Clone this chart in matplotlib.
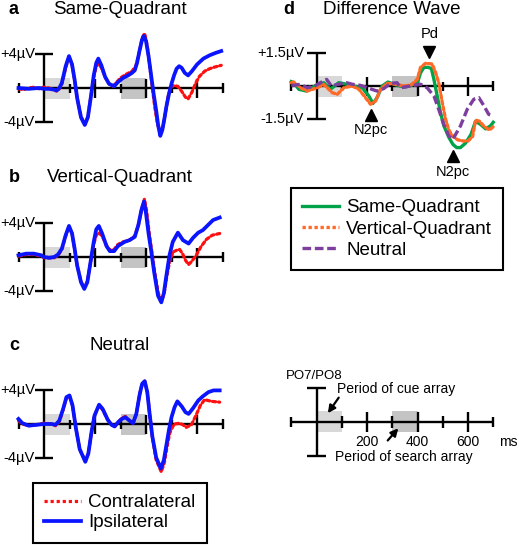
import matplotlib
matplotlib.use("Agg")
import matplotlib.pyplot as plt
from matplotlib.lines import Line2D

plt.rcParams["font.family"] = ["Liberation Sans", "DejaVu Sans"]

W, H = 519, 545

# ---- data (ms, microvolts) ----
cue_window = (0, 100)
search_window = (300, 400)

a_contra_t = [-100, -80, -60, -40, -20, 0, 20, 40, 50, 60, 70, 85, 98, 110, 120, 130, 145, 160, 172, 185,
              195, 205, 215, 225, 240, 255, 270, 285, 300, 320, 345, 360, 375, 385, 395, 405, 415, 425,
              435, 445, 457, 467, 477, 487, 497, 510, 525, 540, 555, 565, 580, 595, 610, 630, 650, 670, 695]
a_contra_v = [-0.1, -0.2, 0.0, 0.1, -0.1, 0.1, 0.0, -0.2, -0.4, -0.1, 0.5, 2.4, 3.7, 2.8, 1.0, -1.2, -3.4,
              -4.3, -3.4, -0.8, 1.3, 2.6, 2.9, 2.4, 1.3, 0.5, 0.2, 0.7, 1.2, 1.6, 2.0, 2.6, 4.4, 6.0, 6.5,
              5.0, 2.6, 0.0, -2.4, -4.3, -5.3, -4.6, -2.8, -1.0, 0.1, 0.3, 0.2, -0.4, -1.1, -1.3, -0.5,
              0.6, 1.4, 2.0, 2.3, 2.5, 2.7]
a_ipsi_t = [-100, -60, -20, 0, 20, 40, 50, 60, 70, 85, 98, 110, 120, 130, 145, 160, 172, 185, 195, 205,
            213, 225, 240, 255, 275, 290, 310, 330, 345, 356, 365, 375, 385, 392, 400, 410, 421, 430, 440,
            448, 456, 464, 473, 480, 490, 500, 510, 520, 530, 540, 552, 565, 580, 600, 625, 650, 675, 695]
a_ipsi_v = [0.0, -0.1, 0.0, -0.1, -0.1, -0.2, -0.3, 0.0, 0.6, 2.6, 3.8, 2.8, 1.0, -1.2, -3.5, -4.4, -3.5,
            -0.8, 1.5, 3.0, 3.5, 2.7, 1.3, 0.5, 0.2, 0.7, 1.2, 1.5, 1.8, 2.1, 3.0, 4.5, 5.8, 6.2, 5.6,
            3.8, 1.3, -0.7, -2.7, -4.5, -5.7, -5.0, -3.5, -2.2, -0.7, 0.5, 1.5, 2.3, 2.6, 2.4, 1.8, 1.5,
            2.0, 2.8, 3.5, 3.9, 4.2, 4.4]

b_contra_t = [-100, -70, -40, -10, 0, 20, 40, 55, 70, 85, 98, 110, 120, 130, 145, 158, 170, 183, 195, 205,
              215, 228, 245, 258, 275, 290, 310, 335, 356, 370, 382, 394, 402, 412, 422, 434, 448, 461,
              471, 481, 493, 506, 520, 532, 545, 555, 567, 580, 597, 615, 637, 660, 689]
b_contra_v = [0.1, 0.3, 0.3, 0.1, -0.1, -0.1, -0.1, 0.2, 0.9, 2.5, 3.6, 2.8, 1.0, -1.0, -2.9, -3.7, -2.9,
              -0.6, 1.5, 2.6, 2.9, 2.5, 1.4, 0.8, 0.9, 1.5, 1.8, 2.0, 2.5, 3.8, 5.6, 6.9, 5.6, 3.0, 0.8,
              -1.8, -4.3, -5.2, -4.4, -2.4, -0.5, 0.6, 0.8, 0.9, 0.3, -0.4, -0.9, -0.5, 0.2, 1.2, 2.1,
              2.6, 2.8]
b_ipsi_t = [-100, -70, -40, -10, 0, 20, 40, 55, 70, 85, 98, 110, 120, 130, 145, 158, 170, 183, 195, 205,
            215, 228, 245, 258, 275, 290, 316, 335, 356, 370, 382, 392, 400, 410, 420, 432, 447, 460, 470,
            480, 492, 505, 525, 545, 567, 585, 605, 623, 663, 689]
b_ipsi_v = [0.2, 0.4, 0.4, 0.2, 0.0, -0.1, 0.0, 0.3, 1.0, 2.6, 3.7, 2.8, 1.0, -1.0, -3.0, -3.8, -3.0,
            -0.5, 1.8, 3.3, 3.7, 2.8, 1.3, 0.7, 0.7, 1.3, 1.8, 2.0, 2.4, 3.8, 5.6, 6.6, 5.2, 2.8, 0.8,
            -1.8, -4.6, -5.4, -4.3, -2.2, 0.2, 1.8, 2.9, 2.0, 1.6, 2.3, 2.9, 3.2, 4.4, 4.7]

c_contra_t = [-100, -85, -60, -30, 0, 30, 45, 60, 75, 88, 100, 112, 125, 140, 162, 174, 186, 198, 216, 230,
              250, 265, 277, 290, 305, 319, 335, 349, 362, 375, 385, 395, 405, 415, 425, 440, 460, 472,
              482, 493, 503, 512, 532, 545, 558, 578, 597, 613, 630, 656, 689]
c_contra_v = [0.4, 0.0, -0.2, -0.1, 0.1, 0.0, -0.2, 0.3, 1.7, 3.1, 3.3, 2.2, -0.5, -3.0, -4.4, -3.5, -1.0,
              1.0, 2.2, 1.7, 0.5, -0.1, -0.3, 0.2, 0.7, 0.9, 0.4, 0.1, 1.2, 3.5, 4.8, 5.1, 3.8, 1.0, -1.6,
              -4.3, -5.7, -4.6, -2.8, -1.1, -0.4, 0.0, 0.1, -0.1, -0.4, -0.1, 1.1, 2.2, 2.9, 2.7, 2.6]
c_ipsi_t = [-100, -85, -60, -30, 0, 30, 45, 60, 75, 88, 100, 112, 125, 140, 162, 174, 186, 198, 216, 230,
            250, 265, 277, 290, 305, 319, 335, 349, 362, 375, 385, 395, 405, 415, 425, 440, 458, 470, 480,
            490, 500, 512, 523, 540, 555, 567, 585, 605, 623, 645, 665, 689]
c_ipsi_v = [0.6, 0.1, -0.2, -0.1, 0.0, 0.0, -0.1, 0.4, 1.8, 3.2, 3.4, 2.2, -0.5, -3.0, -4.5, -3.5, -1.0,
            1.0, 2.3, 1.8, 0.5, -0.1, -0.3, 0.2, 0.6, 0.8, 0.4, 0.1, 1.2, 3.5, 4.8, 5.1, 3.8, 1.0, -1.5,
            -4.0, -5.3, -4.3, -2.5, -0.7, 0.8, 2.0, 2.7, 2.1, 1.4, 1.2, 1.9, 2.8, 3.3, 3.8, 4.0, 4.0]

d_same_t = [-100, -90, -70, -40, -7, 29, 55, 88, 121, 148, 181, 207, 224, 240, 260, 283, 320, 350, 380,
            400, 412, 425, 440, 455, 465, 478, 491, 504, 524, 540, 555, 570, 590, 612, 630, 650, 670,
            690, 700]
d_same_v = [0.2, 0.15, -0.15, -0.23, 0.0, 0.15, -0.15, 0.15, 0.08, 0.0, -0.08, -0.45, -0.79, -0.53, 0.0,
            0.18, 0.03, -0.05, 0.05, 0.15, 0.6, 0.84, 0.85, 0.8, 0.3, -0.45, -1.2, -1.8, -2.33, -2.65,
            -2.8, -2.8, -2.6, -2.2, -1.6, -1.75, -1.95, -1.8, -1.65]
d_vert_t = [-100, -90, -63, -37, 3, 29, 62, 82, 108, 141, 168, 194, 214, 234, 253, 280, 313, 345, 375,
            399, 412, 432, 458, 472, 484, 498, 511, 524, 540, 560, 580, 600, 618, 630, 645, 665, 685, 700]
d_vert_v = [0.15, 0.18, -0.08, -0.23, -0.08, 0.07, -0.3, -0.38, -0.08, 0.0, -0.15, -0.53, -0.83, -0.68,
            -0.15, 0.12, 0.08, 0.0, 0.05, 0.3, 0.84, 1.03, 1.0, 0.6, 0.15, -0.75, -1.5, -2.0, -2.3, -2.45,
            -2.5, -2.5, -2.3, -1.55, -1.6, -1.85, -2.0, -1.85]
d_neut_t = [-100, -90, -63, -37, -7, 20, 40, 59, 86, 119, 141, 174, 201, 240, 266, 293, 319, 333, 372,
            412, 438, 465, 484, 504, 524, 540, 570, 597, 623, 643, 663, 682, 700]
d_neut_v = [0.05, 0.03, 0.08, -0.08, 0.0, 0.18, 0.3, 0.0, 0.08, 0.15, 0.08, 0.03, -0.08, -0.23, -0.12,
            0.12, 0.15, -0.08, 0.0, 0.08, -0.08, -0.45, -1.06, -1.74, -2.27, -2.42, -1.82, -1.06, -0.6,
            -0.53, -0.9, -1.29, -1.36]

scale_ticks = [200, 400, 600]
components = [("N2pc", 214, -1.3), ("Pd", 447, 1.55), ("N2pc", 541, -3.18)]

RED, BLUE = "#ff1010", "#0a14ff"
GREEN, ORANGE, PURPLE = "#00a24a", "#ff6a26", "#7d3f9e"
CUE_GRAY, SEARCH_GRAY = "#d8d8d8", "#c4c4c4"


def px_axes(fig, x0, y0, sx, sy, xlim, ylim):
    left = x0 + xlim[0] * sx
    right = x0 + xlim[1] * sx
    top = y0 - ylim[1] * sy
    bottom = y0 - ylim[0] * sy
    ax = fig.add_axes([left / W, 1 - bottom / H, (right - left) / W, (bottom - top) / H])
    ax.set_xlim(xlim)
    ax.set_ylim(ylim)
    ax.axis("off")
    return ax


def draw_frame(ax, sy, ymax, ylabels=None, label_x=-36, minor=4.5):
    k = dict(color="black", lw=1.7, solid_capstyle="butt", zorder=2)
    box = 10.5 / sy
    ax.fill_between(cue_window, -box, box, color=CUE_GRAY, lw=0, zorder=0)
    ax.fill_between(search_window, -box, box, color=SEARCH_GRAY, lw=0, zorder=0)
    ax.plot([-100, 700], [0, 0], **k)
    ax.plot([0, 0], [-ymax, ymax], **k)
    for yy in (-ymax, ymax):
        ax.plot([-37, 37], [yy, yy], **k)
    for t in (-100, 700):
        ax.plot([t, t], [-5 / sy, 5 / sy], **k)
    for t in (100, 300, 500):
        ax.plot([t, t], [-minor / sy, minor / sy], **k)
    for t in (200, 400, 600):
        ax.plot([t, t], [-9.5 / sy, 9.5 / sy], **k)
    if ylabels:
        for yy, s in zip((ymax, -ymax), ylabels):
            ax.text(label_x, yy, s, ha="right", va="center", fontsize=10.5)


def pfig(fig, x, y, s, **kw):
    fig.text(x / W, 1 - y / H, s, **kw)


def boxed_legend(fig, handles, labels, x, y, spacing):
    leg = fig.legend(handles, labels, loc="upper left", bbox_to_anchor=(x / W, 1 - y / H),
                     fontsize=13.5, frameon=True, fancybox=False, edgecolor="black", framealpha=1,
                     borderaxespad=0, borderpad=0.6, handlelength=1.95, handletextpad=0.4,
                     labelspacing=spacing)
    leg.get_frame().set_linewidth(1.5)
    return leg


fig = plt.figure(figsize=(W / 100, H / 100), dpi=100)

dot = dict(lw=2.3, ls=(0, (1, 0.9)), dash_capstyle="round", clip_on=False, zorder=3)
solid = dict(lw=2.7, clip_on=False, zorder=4)

panels = [
    (88, a_contra_t, a_contra_v, a_ipsi_t, a_ipsi_v, "a", "Same-Quadrant", 14),
    (257, b_contra_t, b_contra_v, b_ipsi_t, b_ipsi_v, "b", "Vertical-Quadrant", 182),
    (424, c_contra_t, c_contra_v, c_ipsi_t, c_ipsi_v, "c", "Neutral", 350),
]
for y0, ct, cv, it, iv, letter, title, base in panels:
    ax = px_axes(fig, 44, y0, 0.255, 8.4, (-170, 760), (-7, 8))
    draw_frame(ax, 8.4, 4, ("+4\u00b5V", "-4\u00b5V"))
    ax.plot(ct, cv, color=RED, **dot)
    ax.plot(it, iv, color=BLUE, **solid)
    pfig(fig, 9, base, letter, fontsize=13, fontweight="bold", va="baseline")
    pfig(fig, 120, base, title, fontsize=13.5, ha="center", va="baseline")

handles = [Line2D([], [], color=RED, lw=2.3, ls=(0, (1, 0.9))),
           Line2D([], [], color=BLUE, lw=2.7)]
boxed_legend(fig, handles, ["Contralateral", "Ipsilateral"], 33, 483, 0.15)

# difference waves
axd = px_axes(fig, 316.5, 86, 0.2525, 22, (-170, 760), (-4.5, 3))
draw_frame(axd, 22, 1.5, ("+1.5\u00b5V", "-1.5\u00b5V"), label_x=-50)
axd.plot(d_same_t, d_same_v, color=GREEN, lw=2.4, clip_on=False, zorder=3)
axd.plot(d_vert_t, d_vert_v, color=ORANGE, lw=2.4, ls=(0, (1, 0.8)), dash_capstyle="round",
         clip_on=False, zorder=4)
axd.plot(d_neut_t, d_neut_v, color=PURPLE, lw=2.4, ls=(0, (2.6, 1.1)), clip_on=False, zorder=5)
for name, t, v in components:
    up = v < 0
    axd.plot(t, v, marker="^" if up else "v", ms=9, color="black", ls="none", zorder=6)
    axd.text(t, v + (-0.72 if up else 0.8), name, ha="center", va="center", fontsize=10.5)
pfig(fig, 283, 14, "d", fontsize=13, fontweight="bold", va="baseline")
pfig(fig, 392, 14, "Difference Wave", fontsize=13.5, ha="center", va="baseline")
handles = [Line2D([], [], color=GREEN, lw=2.4),
           Line2D([], [], color=ORANGE, lw=2.4, ls=(0, (1, 0.8))),
           Line2D([], [], color=PURPLE, lw=2.4, ls=(0, (2.6, 1.1)))]
boxed_legend(fig, handles, ["Same-Quadrant", "Vertical-Quadrant", "Neutral"], 291, 188, 0.22)

# scale key
axs = px_axes(fig, 316.5, 422, 0.2525, 8.4, (-170, 800), (-7, 7))
k = dict(color="black", lw=1.7, solid_capstyle="butt")
box = 10.5 / 8.4
axs.fill_between(cue_window, -box, box, color=CUE_GRAY, lw=0, zorder=0)
axs.fill_between(search_window, -box, box, color=SEARCH_GRAY, lw=0, zorder=0)
axs.plot([-100, 700], [0, 0], **k)
axs.plot([0, 0], [-4, 4], **k)
for yy in (-4, 4):
    axs.plot([-38, 38], [yy, yy], **k)
for t in (-100, 700):
    axs.plot([t, t], [-5 / 8.4, 5 / 8.4], **k)
for t in (100, 300, 500):
    axs.plot([t, t], [-6 / 8.4, 6 / 8.4], **k)
for t in (200, 400, 600):
    axs.plot([t, t], [-10 / 8.4, 10 / 8.4], **k)
for t in scale_ticks:
    axs.text(t, -2.35, str(t), ha="center", va="center", fontsize=10)
axs.text(795, -2.35, "ms", ha="right", va="center", fontsize=10)
axs.text(-121, 5.5, "PO7/PO8", ha="left", va="center", fontsize=9.5)
axs.text(80, 3.9, "Period of cue array", ha="left", va="center", fontsize=10)
axs.text(73, -4.2, "Period of search array", ha="left", va="center", fontsize=10)
arrow = dict(arrowstyle="-|>", lw=1.6, color="black", mutation_scale=11, shrinkA=0, shrinkB=0)
axs.annotate("", xy=(45, 1.05), xytext=(88, 2.9), arrowprops=arrow)
axs.annotate("", xy=(324, -0.75), xytext=(282, -2.2), arrowprops=arrow)

fig.savefig("out.png", dpi=100)
